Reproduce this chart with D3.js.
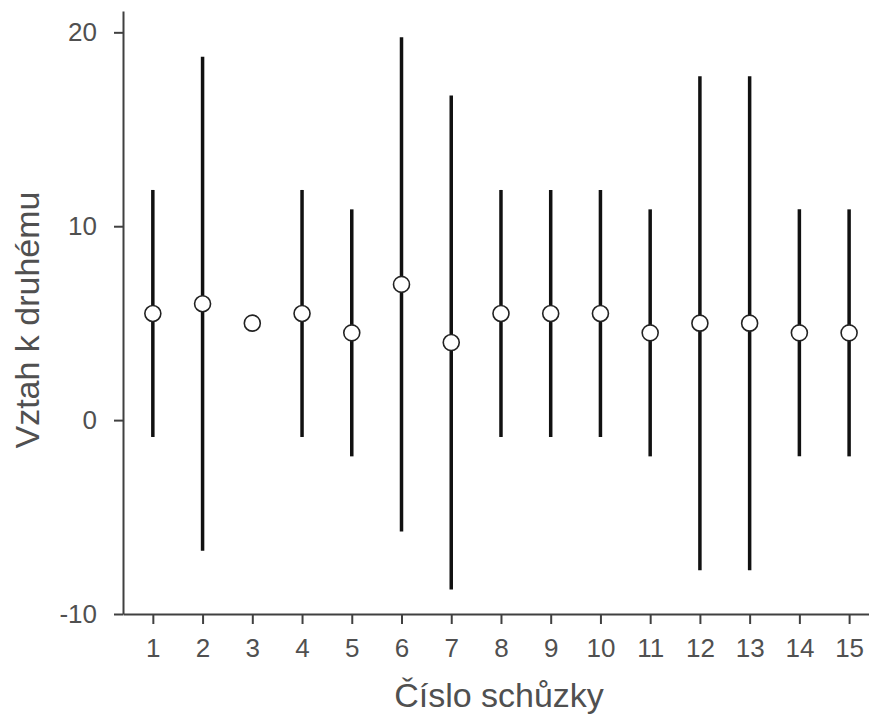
<!DOCTYPE html>
<html>
<head>
<meta charset="utf-8">
<script src="https://cdn.jsdelivr.net/npm/d3@7"></script>
<style>
  html, body { margin: 0; padding: 0; background: #fff; }
  svg { display: block; }
</style>
</head>
<body>
<div id="chart"></div>
<script>
// Session numbers, means and interval bounds (null = no interval shown)
const sessions = [1, 2, 3, 4, 5, 6, 7, 8, 9, 10, 11, 12, 13, 14, 15];
const means = [5.5, 6, 5, 5.5, 4.5, 7, 4, 5.5, 5.5, 5.5, 4.5, 5, 5, 4.5, 4.5];
const lower = [-0.87, -6.74, null, -0.87, -1.87, -5.74, -8.74, -0.87, -0.87, -0.87, -1.87, -7.74, -7.74, -1.87, -1.87];
const upper = [11.87, 18.74, null, 11.87, 10.87, 19.74, 16.74, 11.87, 11.87, 11.87, 10.87, 17.74, 17.74, 10.87, 10.87];
const yTicks = [-10, 0, 10, 20];
const yTickLabels = ["-10", "0", "10", "20"];
const xTitle = "Číslo schůzky";
const yTitle = "Vztah k druhému";

const W = 869, H = 717;
const axisColor = "#404040";
const textColor = "#505050";
const font = "'Liberation Sans', Arial, sans-serif";

const svg = d3.select("#chart").append("svg")
  .attr("width", W).attr("height", H);

const x = d3.scaleLinear().domain([0.4, 15.4]).range([123, 869]);
const y = d3.scaleLinear().domain([-10, 21.1]).range([614, 11]);

// Axes
const yAxis = d3.axisLeft(y).tickValues(yTicks)
  .tickFormat((d, i) => yTickLabels[i])
  .tickSize(9).tickSizeOuter(0).tickPadding(17);
const xAxis = d3.axisBottom(x).tickValues(sessions).tickSize(10).tickSizeOuter(0).tickPadding(15);

const gy = svg.append("g").attr("transform", `translate(${x.range()[0]},0)`).call(yAxis);
const gx = svg.append("g").attr("transform", `translate(0,${y.range()[0]})`).call(xAxis);

[gx, gy].forEach(g => {
  g.select(".domain").attr("stroke", axisColor).attr("stroke-width", 2);
  g.selectAll(".tick line").attr("stroke", axisColor).attr("stroke-width", 2);
  g.selectAll(".tick text")
    .attr("fill", textColor)
    .style("font-family", font)
    .style("font-size", "26px");
});

// Intervals
const rows = sessions.map((s, i) => ({ s, m: means[i], lo: lower[i], hi: upper[i] }));

svg.append("g").selectAll("line")
  .data(rows.filter(d => d.lo !== null))
  .join("line")
  .attr("x1", d => x(d.s)).attr("x2", d => x(d.s))
  .attr("y1", d => y(d.lo)).attr("y2", d => y(d.hi))
  .attr("stroke", "#111")
  .attr("stroke-width", 3.5);

// Mean markers
svg.append("g").selectAll("circle")
  .data(rows)
  .join("circle")
  .attr("cx", d => x(d.s)).attr("cy", d => y(d.m))
  .attr("r", 8)
  .attr("fill", "#fff")
  .attr("stroke", "#222")
  .attr("stroke-width", 1.6);

// Axis titles
svg.append("text")
  .attr("x", 499).attr("y", 707)
  .attr("text-anchor", "middle")
  .attr("fill", textColor)
  .style("font-family", font)
  .style("font-size", "34px")
  .text(xTitle);

svg.append("text")
  .attr("transform", "translate(39,320) rotate(-90)")
  .attr("text-anchor", "middle")
  .attr("fill", textColor)
  .style("font-family", font)
  .style("font-size", "34px")
  .text(yTitle);
</script>
</body>
</html>
